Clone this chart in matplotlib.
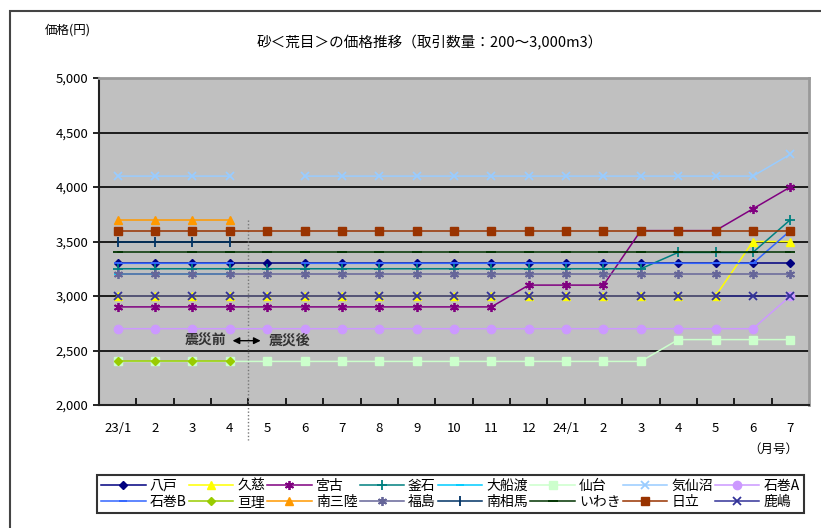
import numpy as np
import matplotlib
matplotlib.use("Agg")
import matplotlib.pyplot as plt
from matplotlib.patches import Rectangle

plt.rcParams['font.family'] = ['Noto Sans CJK JP', 'DejaVu Sans']

nan = np.nan

months = ["23/1", "2", "3", "4", "5", "6", "7", "8", "9", "10", "11", "12",
          "24/1", "2", "3", "4", "5", "6", "7"]

hachinohe = [3300] * 19
kuji = [3000] * 17 + [3500, 3500]
miyako = [2900] * 11 + [3100, 3100, 3100, 3600, 3600, 3600, 3800, 4000]
kamaishi = [3250] * 15 + [3400, 3400, 3400, 3700]
ofunato = [3200] * 4 + [nan] * 15
sendai = [2400] * 15 + [2600] * 4
kesennuma = [4100] * 4 + [nan] + [4100] * 13 + [4300]
ishinomaki_a = [2700] * 18 + [3000]
ishinomaki_b = [3300] * 4 + [nan] + [3300] * 13 + [3600]
watari = [2400] * 4 + [nan] * 15
minamisanriku = [3700] * 4 + [nan] * 15
fukushima = [3200] * 19
minamisoma = [3500] * 4 + [nan] * 15
iwaki = [3400] * 19
hitachi = [3600] * 19
kashima = [3000] * 19

series = [
    ("八戸", hachinohe, "#000080", "D", 4.5),
    ("久慈", kuji, "#FFFF00", "^", 6),
    ("宮古", miyako, "#800080", (6, 2, 0), 6.5),
    ("釜石", kamaishi, "#008080", "+", 7),
    ("大船渡", ofunato, "#00CCFF", "_", 6),
    ("仙台", sendai, "#CCFFCC", "s", 5.5),
    ("気仙沼", kesennuma, "#99CCFF", "x", 5.5),
    ("石巻A", ishinomaki_a, "#CC99FF", "o", 6),
    ("石巻B", ishinomaki_b, "#3366FF", "_", 6),
    ("亘理", watari, "#99CC00", "D", 4.5),
    ("南三陸", minamisanriku, "#FF9900", "^", 6),
    ("福島", fukushima, "#666699", (6, 2, 0), 6.5),
    ("南相馬", minamisoma, "#003366", "|", 7),
    ("いわき", iwaki, "#003300", "_", 7),
    ("日立", hitachi, "#993300", "s", 5.5),
    ("鹿嶋", kashima, "#333399", "x", 5.5),
]

fig = plt.figure(figsize=(8.21, 5.28), dpi=100)
fig.patches.append(Rectangle((10 / 821, -0.1), 1.2, 1 - 11 / 528 + 0.1,
                             transform=fig.transFigure, fill=False,
                             edgecolor="#444444", linewidth=1.5))

ax = fig.add_axes([99 / 821, 1 - 405 / 528, 710 / 821, 327 / 528])
ax.set_facecolor("#C0C0C0")

x = np.arange(len(months))
handles = {}
for name, vals, color, marker, ms in series:
    mew = 1.3 if marker in ("+", "x", "_", "|") or isinstance(marker, tuple) else 1
    line, = ax.plot(x, vals, color=color, marker=marker, markersize=ms,
                    markeredgewidth=mew, linewidth=1.1, zorder=3)
    handles[name] = line

ax.set_xlim(-0.5, len(months) - 0.5)
ax.set_ylim(2000, 5000)
ax.set_yticks(range(2000, 5001, 500))
ax.set_yticklabels([f"{v:,}" for v in range(2000, 5001, 500)], fontsize=9.5)
ax.yaxis.grid(True, color="black", linewidth=1.2)
ax.set_axisbelow(True)

ax.set_xticks(x)
ax.set_xticklabels(months, fontsize=9.5)
ax.tick_params(axis="x", length=0, pad=12)
ax.set_xticks(x[:-1] + 0.5, minor=True)
ax.tick_params(axis="x", which="minor", direction="in", length=5, width=1.2)
ax.tick_params(axis="y", length=4, width=1.2)

for side in ("top", "right"):
    ax.spines[side].set_color("#999999")
    ax.spines[side].set_linewidth(2)
for side in ("left", "bottom"):
    ax.spines[side].set_color("#222222")
    ax.spines[side].set_linewidth(1.5)

# disaster boundary
ax.plot([3.5, 3.5], [3700, 1680], color="#777777", linestyle=(0, (1, 1.5)),
        linewidth=1, clip_on=False, zorder=2)
ax.annotate("", xy=(3.0, 2590), xytext=(3.9, 2590),
            arrowprops=dict(arrowstyle="<|-|>", color="black", lw=1,
                            mutation_scale=10), zorder=4)
ax.text(2.35, 2590, "震災前", ha="center", va="center", fontsize=10,
        fontweight="bold", color="#333333", zorder=4)
ax.text(4.6, 2590, "震災後", ha="center", va="center", fontsize=10,
        fontweight="bold", color="#333333", zorder=4)

fig.text(45 / 821, 1 - 30 / 528, "価格(円)", fontsize=9, va="center")
fig.text(430 / 821, 1 - 43 / 528, "砂＜荒目＞の価格推移（取引数量：200～3,000m3）",
         fontsize=10.5, ha="center", va="center")
fig.text(773 / 821, 1 - 449 / 528, "（月号）", fontsize=9, ha="center", va="center")

row1 = ["八戸", "久慈", "宮古", "釜石", "大船渡", "仙台", "気仙沼", "石巻A"]
row2 = ["石巻B", "亘理", "南三陸", "福島", "南相馬", "いわき", "日立", "鹿嶋"]
order = [n for pair in zip(row1, row2) for n in pair]
leg = fig.legend([handles[n] for n in order], order, ncol=8,
                 loc="lower left", mode="expand",
                 bbox_to_anchor=(90 / 821, 8 / 528, 721 / 821, 47 / 528),
                 fontsize=10, frameon=True, fancybox=False,
                 handlelength=3.2, handletextpad=0.3, columnspacing=0.8,
                 labelspacing=0.15, borderpad=0.3)
leg.get_frame().set_edgecolor("black")
leg.get_frame().set_linewidth(1.5)

fig.savefig("out.png", dpi=100)
